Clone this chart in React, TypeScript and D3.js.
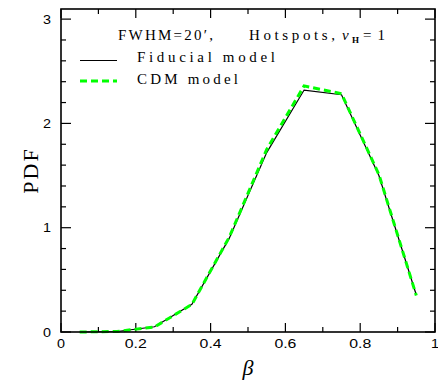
import React from "react";
import * as d3 from "d3";

const betaValues = [0.05, 0.15, 0.25, 0.35, 0.45, 0.55, 0.65, 0.75, 0.85, 0.95];
const fiducialPDF = [0.0, 0.005, 0.05, 0.265, 0.9, 1.72, 2.32, 2.275, 1.5, 0.355];
const cdmPDF = [0.0, 0.005, 0.048, 0.265, 0.91, 1.75, 2.36, 2.285, 1.51, 0.35];
const xTickLabels = ["0", "0.2", "0.4", "0.6", "0.8", "1"];
const yTickLabels = ["0", "1", "2", "3"];

const W = 438;
const H = 380;
const L = 61, R = 435, T = 9, B = 332;

export default function App() {
  const x = d3.scaleLinear().domain([0, 1]).range([L, R]);
  const y = d3.scaleLinear().domain([0, 3.097]).range([B, T]);
  const line = d3
    .line<number>()
    .x((_, i) => x(betaValues[i]))
    .y((d) => y(d));

  const xMajor = xTickLabels.map((s) => +s);
  const xMinor = d3.range(0.1, 1, 0.2);
  const yMajor = yTickLabels.map((s) => +s);
  const yMinor = d3.range(0, 3.1, 0.2).filter((v) => Math.abs(v - Math.round(v)) > 1e-6);

  const serif = "'Liberation Serif', 'Times New Roman', serif";
  const sans = "'Liberation Sans', Arial, sans-serif";
  const stroke = "#000";

  return (
    <svg width={W} height={H} style={{ position: "absolute", left: 0, top: 0, background: "#fff" }}>
      <rect x={0} y={0} width={W} height={H} fill="#fff" />
      {/* ticks */}
      <g stroke={stroke} strokeWidth={1.2}>
        {xMajor.map((v) => (
          <g key={"xM" + v}>
            <line x1={x(v)} x2={x(v)} y1={B} y2={B - 9} />
            <line x1={x(v)} x2={x(v)} y1={T} y2={T + 9} />
          </g>
        ))}
        {xMinor.map((v) => (
          <g key={"xm" + v}>
            <line x1={x(v)} x2={x(v)} y1={B} y2={B - 5} />
            <line x1={x(v)} x2={x(v)} y1={T} y2={T + 5} />
          </g>
        ))}
        {yMajor.map((v) => (
          <g key={"yM" + v}>
            <line x1={L} x2={L + 10} y1={y(v)} y2={y(v)} />
            <line x1={R} x2={R - 10} y1={y(v)} y2={y(v)} />
          </g>
        ))}
        {yMinor.map((v) => (
          <g key={"ym" + v}>
            <line x1={L} x2={L + 5} y1={y(v)} y2={y(v)} />
            <line x1={R} x2={R - 5} y1={y(v)} y2={y(v)} />
          </g>
        ))}
      </g>
      {/* data */}
      <path d={line(fiducialPDF) || ""} fill="none" stroke="#000" strokeWidth={1.2} />
      <path
        d={line(cdmPDF) || ""}
        fill="none"
        stroke="#00ff00"
        strokeWidth={3}
        strokeDasharray="7,4"
      />
      {/* frame */}
      <rect x={L} y={T} width={R - L} height={B - T} fill="none" stroke="#000" strokeWidth={1.6} />
      {/* tick labels */}
      <g fontFamily={sans} fontSize={12} fill="#000">
        {xTickLabels.map((s) => (
          <text
            key={"xl" + s}
            x={x(+s) - (s.length > 1 ? 11 : 4)}
            y={348}
            textLength={s.length > 1 ? 22 : 8}
            lengthAdjust="spacingAndGlyphs"
          >
            {s}
          </text>
        ))}
        {yTickLabels.map((s) => (
          <text key={"yl" + s} x={43} y={y(+s) + 4.5} textLength={8} lengthAdjust="spacingAndGlyphs">
            {s}
          </text>
        ))}
      </g>
      {/* axis titles */}
      <text
        fontFamily={serif}
        fontSize={22}
        transform={`translate(38,${(T + B) / 2}) rotate(-90)`}
        textAnchor="middle"
        letterSpacing={2}
      >
        PDF
      </text>
      <text fontFamily={serif} fontStyle="italic" fontSize={22} x={248} y={375} textAnchor="middle">
        β
      </text>
      {/* title */}
      <g fontFamily={serif} fontSize={15} fill="#000">
        <text x={118} y={40} textLength={95} lengthAdjust="spacing">
          FWHM=20′,
        </text>
        <text x={249} y={40} textLength={86} lengthAdjust="spacing">
          Hotspots,
        </text>
        <text x={342} y={40} fontStyle="italic">ν</text>
        <text x={352} y={43} fontSize={9} fontWeight="bold">H</text>
        <text x={363} y={40} textLength={22} lengthAdjust="spacing">=1</text>
        <text x={137} y={62} textLength={138} lengthAdjust="spacing">
          Fiducial model
        </text>
        <text x={137} y={84} textLength={101} lengthAdjust="spacing">
          CDM model
        </text>
      </g>
      {/* legend lines */}
      <line x1={80} x2={117} y1={60.5} y2={60.5} stroke="#000" strokeWidth={1.2} />
      <line x1={80} x2={117} y1={81} y2={81} stroke="#00ff00" strokeWidth={3} strokeDasharray="7,4" />
    </svg>
  );
}
